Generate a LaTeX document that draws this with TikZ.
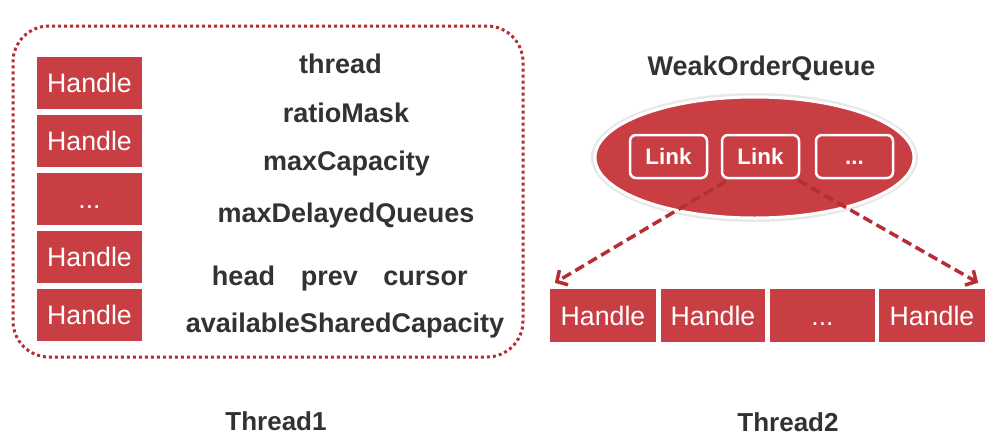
\documentclass[tikz,border=0pt]{standalone}
\usepackage{fontspec}
\setmainfont{Liberation Sans}
\usetikzlibrary{arrows.meta,calc,shapes.geometric}
\definecolor{hred}{RGB}{201,62,67}
\definecolor{dred}{RGB}{183,45,52}
\definecolor{tgray}{RGB}{50,50,50}
\begin{document}
\begin{tikzpicture}[x=1pt,y=-1pt,
  hbox/.style={fill=hred, text=white, minimum width=105pt, minimum height=52pt, inner sep=0pt,
    font=\fontsize{26.7}{30}\selectfont, text height=19pt, text depth=0pt},
  linkbox/.style={fill=hred, draw=white, line width=2.5pt, rounded corners=6pt, minimum width=77pt,
    minimum height=43pt, inner sep=0pt, text=white, font=\fontsize{22.4}{26}\selectfont\bfseries,
    text height=16pt, text depth=0pt},
  field/.style={anchor=base, text=tgray, font=\fontsize{27}{30}\selectfont\bfseries, inner sep=0pt},
  title/.style={anchor=base, text=tgray, font=\fontsize{26}{30}\selectfont\bfseries, inner sep=0pt},
  ptr/.style={draw=dred, line width=3.5pt, dash pattern=on 10pt off 5pt,
    -{Straight Barb[length=8pt,width=17pt]}},
  framebox/.style={draw=dred, line width=3pt, dash pattern=on 3pt off 3pt, rounded corners=36pt}
]
\useasboundingbox (0,0) rectangle (997,440);
\fill[white] (0,0) rectangle (997,440);

% Thread1 frame
\node[framebox, minimum width=510pt, minimum height=331pt, inner sep=0pt] (frame) at (268,191.5) {};

% left handles
\node[hbox] (s1) at (89.5,83) {Handle};
\node[hbox] (s2) at (89.5,141) {Handle};
\node[hbox] (s3) at (89.5,199) {...};
\node[hbox] (s4) at (89.5,257) {Handle};
\node[hbox] (s5) at (89.5,315) {Handle};

% fields
\node[field] (f1) at (340.5,73) {thread};
\node[field] (f2) at (346,122) {ratioMask};
\node[field] (f3) at (346.5,170) {maxCapacity};
\node[field] (f4) at (346,222) {maxDelayedQueues};
\node[field] (f5) at (243.5,285) {head};
\node[field] (f6) at (329.5,285) {prev};
\node[field] (f7) at (425.5,285) {cursor};
\node[field] (f8) at (345,332) {availableSharedCapacity};

% WeakOrderQueue
\node[field] (wq) at (761.5,75) {WeakOrderQueue};
\node[ellipse, fill=black!9, minimum width=327pt, minimum height=129pt, inner sep=0pt] (halo) at (754.5,157.5) {};
\node[ellipse, fill=hred, draw=white, line width=3pt, minimum width=319pt, minimum height=121pt, inner sep=0pt] (ell) at (754.5,157.5) {};
\node[linkbox] (l1) at (668.5,156.5) {Link};
\node[linkbox] (l2) at (760.5,156.5) {Link};
\node[linkbox] (l3) at (854.5,156.5) {...};

% Thread2 handles
\node[hbox, minimum height=53pt, minimum width=106pt] (b1) at (603,315.5) {Handle};
\node[hbox, minimum height=53pt, minimum width=104pt] (b2) at (713,315.5) {Handle};
\node[hbox, minimum height=53pt, minimum width=105pt] (b3) at (822.5,315.5) {...};
\node[hbox, minimum height=53pt, minimum width=106pt] (b4) at (932,315.5) {Handle};

% pointers
\draw[ptr] ([shift={(5,2)}]l2.south west) -- ([shift={(5,-6)}]b1.north west);
\draw[ptr] ([shift={(-2,1)}]l2.south east) -- ([shift={(-7,-6)}]b4.north east);

% titles
\node[title] (t1) at (276,430) {Thread1};
\node[title] (t2) at (788,431) {Thread2};
\end{tikzpicture}
\end{document}
